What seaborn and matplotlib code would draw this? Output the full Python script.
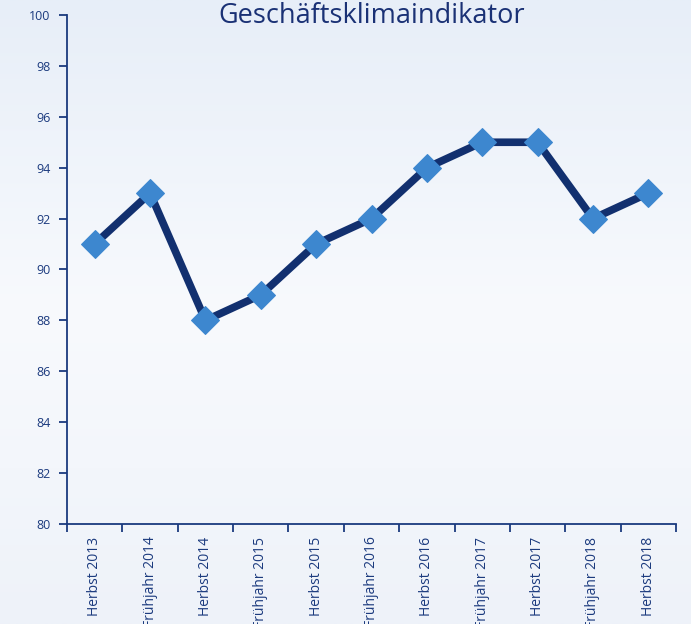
import numpy as np
import pandas as pd
import matplotlib
matplotlib.use("Agg")
import matplotlib.pyplot as plt
import seaborn as sns
from matplotlib.colors import LinearSegmentedColormap

categories = ["Herbst 2013", "Frühjahr 2014", "Herbst 2014", "Frühjahr 2015",
              "Herbst 2015", "Frühjahr 2016", "Herbst 2016", "Frühjahr 2017",
              "Herbst 2017", "Frühjahr 2018", "Herbst 2018"]
values = [91, 93, 88, 89, 91, 92, 94, 95, 95, 92, 93]
yticks = [80, 82, 84, 86, 88, 90, 92, 94, 96, 98, 100]
title = "Geschäftsklimaindikator"

sns.set_style("white")
plt.rcParams['font.family'] = ['Open Sans', 'DejaVu Sans']

navy = "#1b3a7e"
line_col = "#12306f"
marker_col = "#3d87cf"

W, H = 691, 624
fig = plt.figure(figsize=(W / 100, H / 100), dpi=100)

# gradient background
bg = fig.add_axes([0, 0, 1, 1], zorder=-10)
grad = np.linspace(0, 1, 256).reshape(-1, 1)
cmap = LinearSegmentedColormap.from_list("bg", ["#e7eef8", "#f8fafd", "#eef2f9"])
bg.imshow(grad, aspect="auto", cmap=cmap, extent=[0, 1, 0, 1], origin="upper")
bg.axis("off")

left, right = 67 / W, 676 / W
bottom, top = (H - 524) / H, (H - 15) / H
ax = fig.add_axes([left, bottom, right - left, top - bottom])
ax.set_facecolor("none")

df = pd.DataFrame({"cat": categories, "val": values})
sns.lineplot(data=df, x="cat", y="val", ax=ax, color=line_col, linewidth=5.5,
             marker="D", markersize=14, markerfacecolor=marker_col,
             markeredgecolor=marker_col, sort=False)

ax.set_xlim(-0.5, len(categories) - 0.5)
ax.set_ylim(80, 100)
ax.set_yticks(yticks)
ax.set_yticklabels([str(t) for t in yticks], color=navy, fontsize=9)
ax.set_xticks(range(len(categories)))
ax.set_xticklabels(categories, rotation=90, color=navy, fontsize=10)
ax.set_xticks(np.arange(-0.5, len(categories), 1), minor=True)
ax.tick_params(axis="x", which="major", bottom=True, length=0, pad=9)
ax.tick_params(axis="x", which="minor", bottom=True, length=6, width=1.3,
               color=navy, direction="out")
ax.tick_params(axis="y", which="major", left=True, length=6, width=1.3,
               color=navy, direction="out", pad=6)
ax.set_xlabel("")
ax.set_ylabel("")

for s in ["top", "right"]:
    ax.spines[s].set_visible(False)
for s in ["left", "bottom"]:
    ax.spines[s].set_color(navy)
    ax.spines[s].set_linewidth(1.3)

fig.text(372 / W, 1 - 16 / H, title, ha="center", va="center",
         fontsize=19.5, fontweight="medium", color="#1a3175")

fig.savefig("out.png", dpi=100)
